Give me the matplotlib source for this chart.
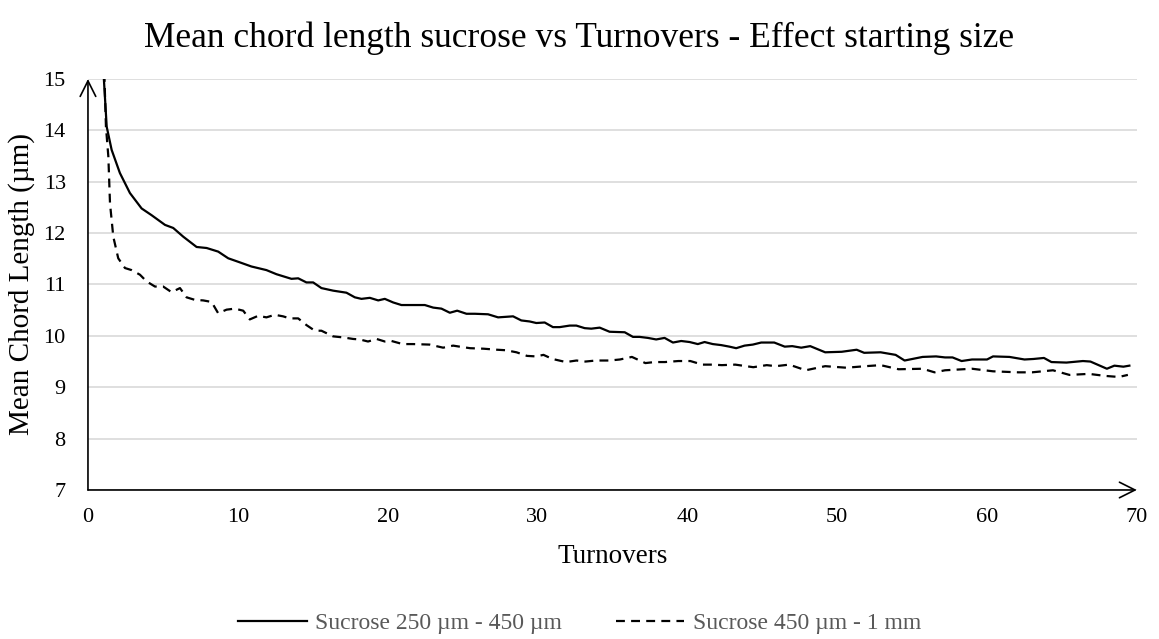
import matplotlib.pyplot as plt
from matplotlib.lines import Line2D

plt.rcParams['font.family'] = ['Liberation Serif', 'DejaVu Serif']

# Sucrose 250 um - 450 um (solid)
small_x = [0.95, 1.0, 1.25, 1.58, 2.13, 2.80, 3.58, 4.24, 5.14, 5.69, 6.36, 7.25, 7.92, 8.69,
           9.36, 10.14, 10.91, 11.91, 12.58, 13.58, 14.03, 14.58, 15.03, 15.58, 16.36, 17.25,
           17.81, 18.25, 18.81, 19.37, 19.81, 20.37, 20.92, 22.48, 23.04, 23.59, 24.15, 24.64,
           25.26, 25.82, 26.70, 27.37, 28.37, 28.92, 29.48, 29.92, 30.48, 31.03, 31.48, 32.15,
           32.59, 33.15, 33.59, 34.15, 34.81, 35.82, 36.37, 36.81, 37.37, 37.92, 38.48, 39.04,
           39.59, 40.15, 40.70, 41.15, 41.70, 42.26, 42.81, 43.26, 43.82, 44.37, 44.93, 45.8,
           46.5, 47.0, 47.6, 48.2, 49.2, 50.3, 51.3, 51.8, 52.9, 53.9, 54.5, 55.7, 56.6, 57.2,
           57.7, 58.3, 59.0, 60.0, 60.4, 61.5, 62.5, 63.1, 63.8, 64.3, 65.3, 66.4, 66.9, 68.0,
           68.5, 69.1, 69.5]
small_y = [16.5, 15.3, 14.07, 13.62, 13.17, 12.78, 12.48, 12.35, 12.16, 12.10, 11.93, 11.73,
           11.71, 11.64, 11.51, 11.43, 11.35, 11.28, 11.20, 11.11, 11.12, 11.04, 11.04, 10.93,
           10.88, 10.84, 10.75, 10.72, 10.74, 10.69, 10.72, 10.65, 10.60, 10.60, 10.55, 10.53,
           10.45, 10.49, 10.43, 10.43, 10.42, 10.36, 10.38, 10.30, 10.28, 10.25, 10.26, 10.17,
           10.17, 10.20, 10.20, 10.15, 10.14, 10.16, 10.08, 10.07, 9.98, 9.98, 9.96, 9.93, 9.96,
           9.87, 9.90, 9.88, 9.84, 9.88, 9.84, 9.82, 9.79, 9.76, 9.81, 9.83, 9.87, 9.87, 9.79,
           9.80, 9.77, 9.80, 9.68, 9.69, 9.73, 9.67, 9.68, 9.63, 9.52, 9.59, 9.60, 9.58, 9.58,
           9.51, 9.54, 9.54, 9.60, 9.59, 9.54, 9.55, 9.57, 9.49, 9.48, 9.51, 9.50, 9.36, 9.42,
           9.40, 9.42]

# Sucrose 450 um - 1 mm (dashed)
large_x = [1.0, 1.2, 1.36, 1.47, 1.69, 2.02, 2.47, 2.91, 3.47, 3.91, 4.47, 5.02, 5.58, 6.14,
           6.58, 7.14, 7.69, 8.25, 8.69, 9.25, 9.80, 10.36, 10.80, 11.36, 11.91, 12.47, 13.02,
           13.47, 14.03, 14.58, 15.14, 15.58, 16.36, 17.03, 17.69, 18.14, 18.69, 19.26, 19.81,
           20.26, 21.0, 21.7, 22.8, 23.7, 24.37, 24.8, 25.5, 26.4, 27.3, 27.9, 28.6, 29.3, 29.9,
           30.4, 31.0, 31.9, 32.6, 33.2, 33.9, 34.8, 35.5, 36.3, 37.2, 37.8, 38.5, 39.4, 40.2,
           41.0, 41.7, 42.3, 43.2, 44.4, 45.3, 45.9, 46.8, 47.9, 49.2, 50.6, 51.9, 52.9, 54.1,
           55.7, 56.5, 57.2, 59.0, 60.4, 62.1, 63.0, 64.4, 65.5, 66.8, 67.9, 68.8, 69.4]
large_y = [16.0, 14.07, 13.49, 12.58, 11.93, 11.51, 11.32, 11.28, 11.19, 11.06, 10.96, 10.96,
           10.85, 10.93, 10.75, 10.70, 10.69, 10.66, 10.44, 10.51, 10.53, 10.49, 10.32, 10.39,
           10.36, 10.41, 10.38, 10.34, 10.34, 10.21, 10.10, 10.10, 9.99, 9.97, 9.94, 9.93, 9.89,
           9.94, 9.89, 9.90, 9.84, 9.84, 9.83, 9.77, 9.81, 9.79, 9.76, 9.75, 9.73, 9.72, 9.68,
           9.61, 9.60, 9.63, 9.55, 9.49, 9.52, 9.50, 9.52, 9.52, 9.54, 9.59, 9.47, 9.49, 9.49,
           9.51, 9.51, 9.44, 9.44, 9.43, 9.44, 9.39, 9.43, 9.41, 9.44, 9.33, 9.41, 9.38, 9.41,
           9.43, 9.35, 9.36, 9.29, 9.33, 9.36, 9.31, 9.29, 9.29, 9.33, 9.24, 9.26, 9.22, 9.20,
           9.24]

x_ticks = [0, 10, 20, 30, 40, 50, 60, 70]
y_ticks = [7, 8, 9, 10, 11, 12, 13, 14, 15]

fig = plt.figure(figsize=(11.59, 6.39), dpi=100)
ax = fig.add_axes([0.0759, 0.2332, 0.905, 0.6432])

dash = (0, (4, 2.8))
ax.plot(large_x, large_y, color='black', lw=1.6, ls=dash)
ax.plot(small_x, small_y, color='black', lw=1.6)

ax.set_xlim(0, 70)
ax.set_ylim(7, 15)
ax.set_xticks(x_ticks)
ax.set_yticks(y_ticks)
ax.tick_params(axis='both', length=0, labelsize=16, colors='black')
ax.tick_params(axis='x', pad=13)
ax.tick_params(axis='y', pad=16)
ax.grid(axis='y', color='#d9d9d9', lw=1.2)
ax.set_axisbelow(True)
for s in ax.spines.values():
    s.set_visible(False)

# axis arrows
arrow = dict(arrowstyle='->', lw=1.2, color='black', mutation_scale=28, shrinkA=0, shrinkB=0)
ax.annotate('', xy=(0, 15), xytext=(0, 7), arrowprops=arrow, annotation_clip=False)
ax.annotate('', xy=(70, 7), xytext=(0, 7), arrowprops=arrow, annotation_clip=False)

ax.set_xlabel('Turnovers', fontsize=19.5, va='center')
ax.xaxis.set_label_coords(0.5, -0.163)
ax.set_ylabel('Mean Chord Length (µm)', fontsize=21, va='center')
ax.yaxis.set_label_coords(-0.063, 0.5)
fig.text(0.5, 0.9405, 'Mean chord length sucrose vs Turnovers - Effect starting size',
         fontsize=25.5, ha='center', va='center')

handles = [Line2D([], [], color='black', lw=1.6), Line2D([], [], color='black', lw=1.6, ls=dash)]
labels = ['Sucrose 250 µm - 450 µm', 'Sucrose 450 µm - 1 mm']
fig.legend(handles, labels, loc='center', bbox_to_anchor=(0.5, 0.025), ncol=2,
           frameon=False, fontsize=17, labelcolor='#595959', handlelength=2.9,
           columnspacing=2.3, handletextpad=0.35, borderpad=0)

fig.savefig('out.png', dpi=100)
